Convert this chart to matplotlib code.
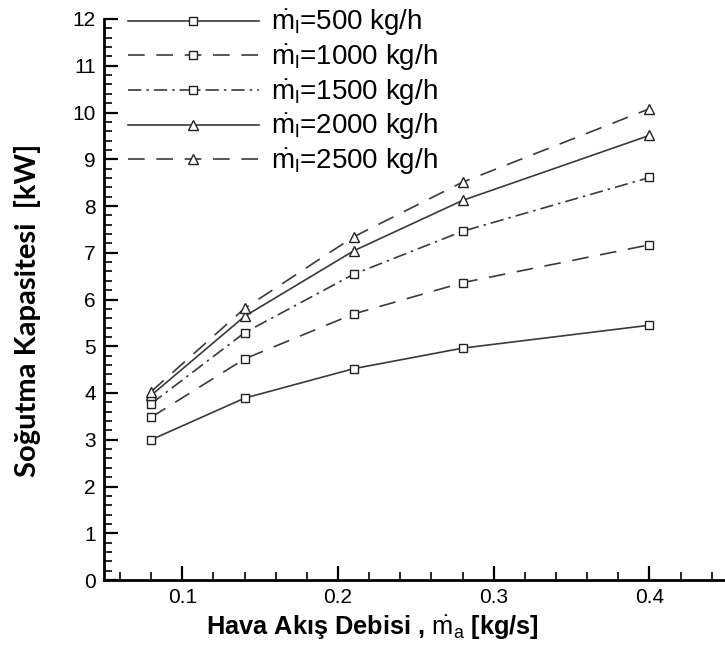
import matplotlib
matplotlib.use("Agg")
import matplotlib.pyplot as plt
from matplotlib.ticker import MultipleLocator

plt.rcParams["font.family"] = ["Liberation Sans", "DejaVu Sans"]
plt.rcParams["mathtext.fontset"] = "custom"
plt.rcParams["mathtext.rm"] = "Liberation Sans"
plt.rcParams["mathtext.it"] = "Liberation Sans"
plt.rcParams["mathtext.bf"] = "Liberation Sans:bold"

# Air mass flow rate [kg/s]
air_flow = [0.08, 0.14, 0.21, 0.28, 0.40]

# Cooling capacity [kW] for each liquid mass flow rate
q_500 = [3.00, 3.89, 4.52, 4.96, 5.45]
q_1000 = [3.48, 4.73, 5.69, 6.36, 7.17]
q_1500 = [3.77, 5.29, 6.54, 7.46, 8.61]
q_2000 = [3.95, 5.64, 7.04, 8.12, 9.51]
q_2500 = [4.03, 5.81, 7.34, 8.51, 10.08]

series_labels = ["500", "1000", "1500", "2000", "2500"]

W, H = 725, 650
fig = plt.figure(figsize=(W / 100, H / 100), dpi=100)
ax = fig.add_axes([104 / W, 1 - 580 / H, 1 - 104 / W, (580 - 19) / H])

line_color = "#3a3a3a"
styles = [
    dict(ls="-", marker="s"),
    dict(ls=(0, (10, 7)), marker="s"),
    dict(ls=(0, (8, 3, 1.5, 3)), marker="s"),
    dict(ls="-", marker="^"),
    dict(ls=(0, (10, 7)), marker="^"),
]
data = [q_500, q_1000, q_1500, q_2000, q_2500]

for q, lab, st in zip(data, series_labels, styles):
    ax.plot(air_flow, q, color=line_color, lw=1.2, linestyle=st["ls"],
            marker=st["marker"], markersize=5.3 if st["marker"] == "s" else 6.5,
            markerfacecolor="white", markeredgecolor="#222222", markeredgewidth=1.0,
            label=r"$\dot{\mathrm{m}}_\mathrm{l}$=" + lab + " kg/h")

ax.set_xlim(0.0497, 0.4485)
ax.set_ylim(0, 12)

ax.spines["top"].set_visible(False)
ax.spines["right"].set_visible(False)
ax.spines["left"].set_linewidth(2)
ax.spines["bottom"].set_linewidth(2)

ax.xaxis.set_major_locator(MultipleLocator(0.1))
ax.xaxis.set_minor_locator(MultipleLocator(0.02))
ax.yaxis.set_major_locator(MultipleLocator(1))
ax.yaxis.set_minor_locator(MultipleLocator(0.2))
ax.tick_params(which="major", direction="in", length=10, width=1.6, labelsize=15,
               pad=6, top=False, right=False)
ax.tick_params(which="minor", direction="in", length=6, width=1.2, top=False, right=False)

ax.set_xlabel(r"Hava Akış Debisi , $\dot{\mathrm{m}}_\mathrm{a}$ [kg/s]",
              fontweight="bold", fontsize=18.3, labelpad=4)
ax.xaxis.set_label_coords((372 - 104) / (W - 104), -(627 - 580) / (580 - 19))
ax.xaxis.label.set_va("center")

ax.set_ylabel("Soğutma Kapasitesi  [kW]", family=["Lato", "DejaVu Sans"],
              fontweight="bold", fontsize=21)
ax.yaxis.set_label_coords(-(104 - 28) / (W - 104), (580 - 310) / (580 - 19))
ax.yaxis.label.set_va("center")

leg = ax.legend(loc="upper left", bbox_to_anchor=(128 / W, 1 - 8 / H),
                bbox_transform=fig.transFigure, frameon=False,
                fontsize=20, handlelength=4.7, handletextpad=0.45,
                labelspacing=0.16, borderaxespad=0.0, borderpad=0.0)

fig.savefig("out.png", dpi=100)
